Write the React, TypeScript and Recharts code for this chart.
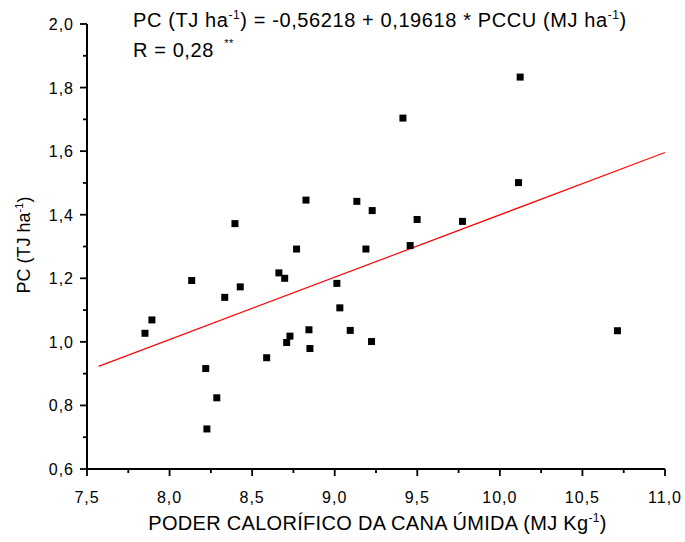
import React from 'react';
import { ScatterChart, Scatter, XAxis, YAxis } from 'recharts';

const xValues = [7.851, 7.893, 8.134, 8.219, 8.226, 8.286, 8.334, 8.396, 8.428, 8.588, 8.662, 8.697, 8.709, 8.729, 8.769, 8.826, 8.844, 8.85, 9.013, 9.031, 9.094, 9.134, 9.189, 9.227, 9.223, 9.413, 9.499, 9.457, 9.774, 10.123, 10.113, 10.712];
const yValues = [1.027, 1.069, 1.193, 0.916, 0.726, 0.824, 1.14, 1.372, 1.173, 0.95, 1.217, 1.2, 0.998, 1.018, 1.292, 1.446, 1.038, 0.979, 1.184, 1.107, 1.036, 1.442, 1.292, 1.413, 1.001, 1.704, 1.385, 1.303, 1.379, 1.833, 1.501, 1.035];

const fitIntercept = -0.56218;
const fitSlope = 0.19618;
const fitRangeX = [7.57, 11.0];

const xTicks = [7.5, 7.75, 8.0, 8.25, 8.5, 8.75, 9.0, 9.25, 9.5, 9.75, 10.0, 10.25, 10.5, 10.75, 11.0];
const yTicks = [0.6, 0.7, 0.8, 0.9, 1.0, 1.1, 1.2, 1.3, 1.4, 1.5, 1.6, 1.7, 1.8, 1.9, 2.0];

const points = xValues.map((x, i) => ({ x, y: yValues[i] }));
const fitLine = fitRangeX.map((x) => ({ x, y: fitIntercept + fitSlope * x }));

const FONT = '"Liberation Sans", Arial, Helvetica, sans-serif';
const fmt = (v: number) => v.toFixed(1).replace('.', ',');

const XTick = (props: any) => {
  const { x, y, payload } = props;
  const v = payload.value as number;
  const major = Math.abs(v * 2 - Math.round(v * 2)) < 1e-6;
  return (
    <g>
      <line x1={x} x2={x} y1={y} y2={y + (major ? 7 : 4)} stroke="#000" strokeWidth={1.8} />
      {major && (
        <text x={x} y={y + 34} textAnchor="middle" fontSize={16} letterSpacing={1} fontFamily={FONT} fill="#000">
          {fmt(v)}
        </text>
      )}
    </g>
  );
};

const YTick = (props: any) => {
  const { x, y, payload } = props;
  const v = payload.value as number;
  const major = Math.round(v * 10) % 2 === 0;
  return (
    <g>
      <line x1={x - (major ? 7 : 4)} x2={x} y1={y} y2={y} stroke="#000" strokeWidth={1.8} />
      {major && (
        <text x={x - 13} y={y + 6} textAnchor="end" fontSize={16} letterSpacing={1} fontFamily={FONT} fill="#000">
          {fmt(v)}
        </text>
      )}
    </g>
  );
};

const Square = (props: any) => {
  const { cx, cy } = props;
  if (cx == null || cy == null) return null;
  return <rect x={cx - 3.5} y={cy - 3.5} width={7} height={7} fill="#000" />;
};

const NoShape = () => null;

export default function App() {
  return (
    <div style={{ position: 'absolute', left: 0, top: 0, width: 685, height: 542, background: '#fff' }}>
      <ScatterChart width={685} height={542} margin={{ top: 24, right: 20, bottom: 0, left: 0 }}>
        <XAxis
          type="number"
          dataKey="x"
          domain={[7.5, 11]}
          ticks={xTicks}
          interval={0}
          height={73}
          tickSize={0}
          tickMargin={0}
          tick={<XTick />}
          tickLine={false}
          axisLine={{ stroke: '#000', strokeWidth: 2 }}
          allowDataOverflow
        />
        <YAxis
          type="number"
          dataKey="y"
          domain={[0.6, 2.0]}
          ticks={yTicks}
          interval={0}
          width={87}
          tickSize={0}
          tickMargin={0}
          tick={<YTick />}
          tickLine={false}
          axisLine={{ stroke: '#000', strokeWidth: 2 }}
          allowDataOverflow
        />
        <Scatter data={fitLine} line={{ stroke: '#ff0000', strokeWidth: 1.2 }} shape={<NoShape />} isAnimationActive={false} />
        <Scatter data={points} shape={<Square />} isAnimationActive={false} />
      </ScatterChart>
      <svg width={685} height={542} style={{ position: 'absolute', left: 0, top: 0, pointerEvents: 'none' }}>
        <text x={133} y={27} fontSize={20} letterSpacing={0.6} fontFamily={FONT} fill="#000">
          PC (TJ ha<tspan dy={-8} fontSize={12}>-1</tspan>
          <tspan dy={8}>) = -0,56218 + 0,19618 * PCCU (MJ ha</tspan>
          <tspan dy={-8} fontSize={12}>-1</tspan>
          <tspan dy={8}>)</tspan>
        </text>
        <text x={133} y={57} fontSize={20} letterSpacing={0.6} fontFamily={FONT} fill="#000">
          R = 0,28 <tspan dx={4} dy={-10} fontSize={11}>**</tspan>
        </text>
        <text transform="translate(30,245) rotate(-90)" textAnchor="middle" fontSize={18} fontFamily={FONT} fill="#000">
          PC (TJ ha<tspan dy={-7} fontSize={11}>-1</tspan>
          <tspan dy={7}>)</tspan>
        </text>
        <text x={377.5} y={529.5} textAnchor="middle" fontSize={20} letterSpacing={0.3} fontFamily={FONT} fill="#000">
          PODER CALORÍFICO DA CANA ÚMIDA (MJ Kg<tspan dy={-8} fontSize={12}>-1</tspan>
          <tspan dy={8}>)</tspan>
        </text>
      </svg>
    </div>
  );
}
